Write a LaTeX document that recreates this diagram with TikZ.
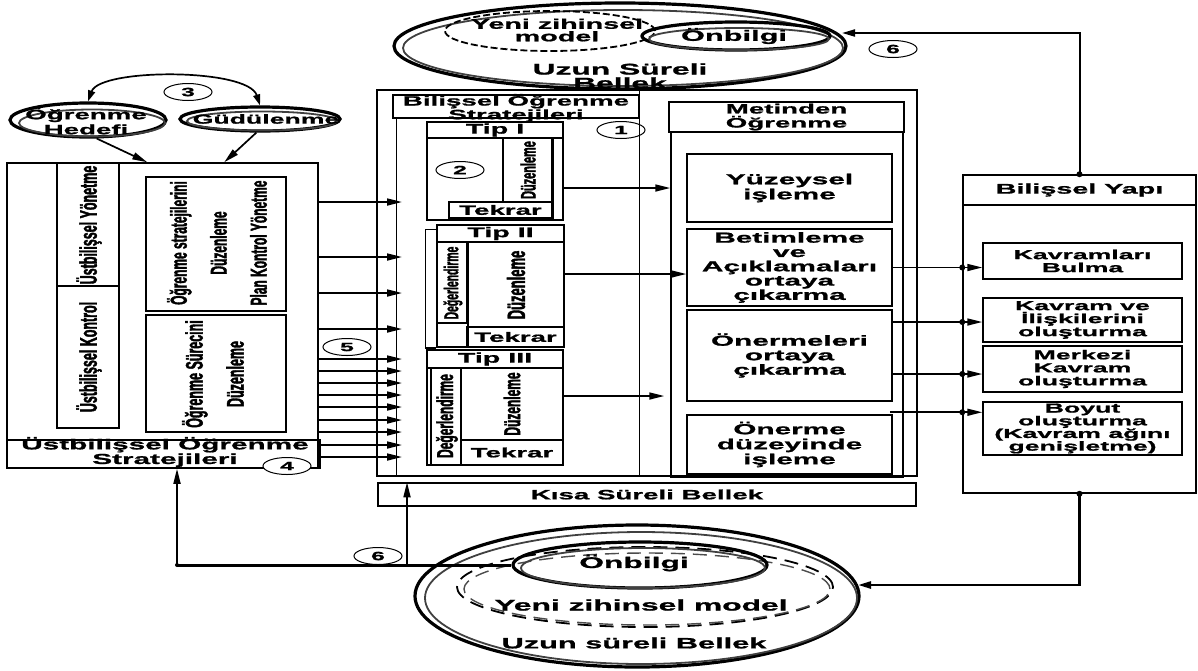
\documentclass[tikz,border=0pt]{standalone}
\usepackage{fontspec}
\setmainfont{Liberation Sans}
\newfontfamily\widef[FakeStretch=2.05,FakeBold=1.2]{Liberation Sans}
\newfontfamily\narrowf[FakeStretch=0.52,FakeBold=1.6]{Liberation Sans}
\newcommand\wfs[2]{\widef\bfseries\fontsize{#1}{#2}\selectfont}
\newcommand\nfs[2]{\narrowf\bfseries\fontsize{#1}{#2}\selectfont}
\usetikzlibrary{arrows.meta,shapes.geometric,calc}
\begin{document}
\begin{tikzpicture}[x=1pt,y=-1pt,
 bx/.style={draw, line width=1.5pt, inner sep=0pt, align=center},
 rot/.style={rotate=90, inner sep=0pt, align=center},
 lbl/.style={inner sep=0pt, align=center},
 num/.style={draw, ellipse, line width=1pt, minimum width=48pt, minimum height=17pt, inner sep=0pt, font=\wfs{12}{12}},
 arr/.style={line width=1.7pt, -{Triangle[length=15pt,width=7pt]}},
 ell/.style={draw, ellipse, line width=3.2pt, inner sep=0pt},
 ghost/.style={draw=black!75, ellipse, line width=1.8pt, inner sep=0pt},
 dsh/.style={draw, ellipse, line width=1.8pt, inner sep=0pt},
 dot/.style={circle, fill, inner sep=0pt, minimum size=6pt}
]
\useasboundingbox (0,0) rectangle (1198,670);

% ---------------- top long-term memory
\node[ell, minimum width=452pt, minimum height=86pt] (tmem) at (620,46) {};
\node[ghost, minimum width=440pt, minimum height=76pt] (tmemg) at (623,48) {};
\node[dsh, dash pattern=on 7pt off 3pt, minimum width=210pt, minimum height=40pt] (tym) at (550,31) {};
\node[ell, minimum width=188pt, minimum height=28pt] (tonb) at (736,36) {};
\node[ghost, minimum width=180pt, minimum height=22pt] (tonbg) at (739,39) {};
\node[lbl, font=\wfs{14}{12.5}] (tymt) at (557,30) {Yeni zihinsel\\model};
\node[lbl, font=\wfs{15.5}{14}] (tmemt) at (620,76) {Uzun Süreli\\Bellek};
\node[lbl, font=\wfs{15}{15}] (tonbt) at (734,36) {Önbilgi};

% ---------------- left: goals
\node[ell, minimum width=156pt, minimum height=34pt] (hedef) at (88,120) {};
\node[ghost, minimum width=146pt, minimum height=27pt] (hedefg) at (92,123) {};
\node[lbl, font=\wfs{13.5}{15}] (hedeft) at (86,121) {Öğrenme\\Hedefi};
\node[ell, minimum width=160pt, minimum height=24pt] (gudu) at (260,119) {};
\node[ghost, minimum width=150pt, minimum height=19pt] (gudug) at (262,121) {};
\node[lbl, font=\wfs{13}{13}] (gudut) at (266,119) {Güdülenme};
\node[num] (n3) at (188,92) {3};
\draw[line width=1.7pt, {Triangle[length=11pt,width=7pt]}-{Triangle[length=11pt,width=7pt]}]
  (hedef.north) .. controls (100,68) and (248,68) .. (gudu.north);

% ---------------- left box
\node[bx, minimum width=311pt, minimum height=305pt] (lbox) at (162.5,315.5) {};
\node[bx, minimum width=313pt, minimum height=28pt] (llab) at (163.5,454) {};
\node[lbl, font=\wfs{14.5}{12.5}] (llabt) at (165,452) {Üstbilişsel Öğrenme\\Stratejileri};
\node[num, fill=white] (n4) at (287,466) {4};
\draw[arr] (hedef.-65) -- ([xshift=141pt]lbox.north west);
\draw[arr] (gudu.-105) -- ([xshift=218pt]lbox.north west);

\node[bx, minimum width=62pt, minimum height=123pt] (ly) at (88,224.5) {};
\node[rot, font=\nfs{24}{24}] (lyt) at (89,225) {Üstbilişsel Yönetme};
\node[bx, minimum width=62pt, minimum height=142pt] (lk) at (88,357) {};
\node[rot, font=\nfs{24}{24}] (lkt) at (89,357) {Üstbilişsel Kontrol};
\node[bx, minimum width=140pt, minimum height=134pt] (lp) at (216,244) {};
\node[rot, font=\nfs{23}{40}] (lpt) at (217,243) {Öğrenme stratejilerini\\Düzenleme\\Plan Kontrol Yönetme};
\node[bx, minimum width=140pt, minimum height=117pt] (ls) at (216,373.5) {};
\node[rot, font=\nfs{24}{41}] (lst) at (213,374) {Öğrenme Sürecini\\Düzenleme};

% ---------------- middle frame
\node[bx, minimum width=540pt, minimum height=386pt] (bframe) at (647,283) {};
\draw[line width=1.5pt] ([xshift=263pt]bframe.north west) -- ([xshift=263pt]bframe.south west);
\node[bx, minimum width=246pt, minimum height=23pt] (bhead) at (516,106.5) {};
\draw[line width=1.5pt] ([xshift=20pt]bframe.south west) -- ([xshift=20pt]bframe.south west |- bhead.south);
\node[lbl, font=\wfs{13.5}{12}] (bheadt) at (516,108) {Bilişsel Öğrenme\\Stratejileri};
\node[num] (n1) at (621,130) {1};

% arrows from left box
\coordinate (btip) at (402,0);
\foreach \yy [count=\i] in {202,257,293,329,359,371,383,395,407,420,432,445,457} {
  \coordinate (ly\i) at (0,\yy);
  \draw[arr] (lbox.east |- ly\i) -- (btip |- ly\i);
}
\node[num] (n5) at (347,347) {5};

% Tip I
\node[bx, minimum width=136pt, minimum height=98pt] (tip1) at (495,171) {};
\node[bx, minimum width=136pt, minimum height=16pt, font=\wfs{14}{14}] (tip1h) at (495,130) {Tip I};
\node[bx, minimum width=49pt, minimum height=64pt] (tip1z) at (527.5,170) {};
\node[rot, font=\nfs{21}{21}] (tip1zt) at (528,170) {Düzenleme};
\node[bx, minimum width=103pt, minimum height=16pt, font=\wfs{13.5}{13.5}] (tip1t) at (500.5,210) {Tekrar};
\draw[line width=1.5pt] (tip1z.north east) -- (tip1t.south east);
\node[num] (n2) at (460,170) {2};

% Tip II
\node[bx, minimum width=127pt, minimum height=122pt] (tip2) at (500.5,286) {};
\node[bx, minimum width=127pt, minimum height=17pt, font=\wfs{14}{14}] (tip2h) at (500.5,233.5) {Tip II};
\node[bx, minimum width=30pt, minimum height=81pt] (tip2d) at (452,282.5) {};
\node[rot, font=\nfs{20}{20}] (tip2dt) at (453,283) {Değerlendirme};
\draw[line width=1.5pt] (tip2d.north east) -- (tip2d.north east |- tip2.south);
\node[bx, minimum width=97pt, minimum height=20pt, font=\wfs{13.5}{13.5}] (tip2t) at (515.5,337) {Tekrar};
\node[rot, font=\nfs{25}{25}] (tip2zt) at (516,285) {Düzenleme};
\draw[line width=1.5pt] ([yshift=-5pt]tip2.north west) -- ++(-11,0) |- (tip2.south west);

% Tip III
\node[bx, minimum width=136pt, minimum height=115pt] (tip3) at (495,407.5) {};
\node[bx, minimum width=136pt, minimum height=18pt, font=\wfs{14}{14}] (tip3h) at (495,359) {Tip III};
\node[bx, minimum width=30pt, minimum height=97pt] (tip3d) at (446,416.5) {};
\node[rot, font=\nfs{23}{23}] (tip3dt) at (447,416) {Değerlendirme};
\node[bx, minimum width=102pt, minimum height=25pt, font=\wfs{13.5}{13.5}] (tip3t) at (512,452.5) {Tekrar};
\node[rot, font=\nfs{23}{23}] (tip3zt) at (512,404) {Düzenleme};

% Metinden Öğrenme
\node[bx, minimum width=235pt, minimum height=30pt, font=\wfs{13.5}{14}] (mhead) at (786.5,117) {Metinden\\Öğrenme};
\node[bx, minimum width=232pt, minimum height=345pt] (minner) at (787,304.5) {};
\node[bx, minimum width=205pt, minimum height=68pt, font=\wfs{14.5}{15}] (yuz) at (789.5,188) {Yüzeysel\\işleme};
\node[bx, minimum width=205pt, minimum height=77pt, font=\wfs{14.5}{14.3}] (betim) at (789.5,267.5) {Betimleme\\ve\\Açıklamaları\\ortaya\\çıkarma};
\node[bx, minimum width=205pt, minimum height=91pt, font=\wfs{14.5}{14.5}] (oner) at (789.5,355.5) {Önermeleri\\ortaya\\çıkarma};
\node[bx, minimum width=205pt, minimum height=59pt, font=\wfs{14.5}{15}] (onerd) at (789.5,444.5) {Önerme\\düzeyinde\\işleme};

% arrows Tip -> Metinden
\coordinate (t1s) at ([yshift=-17pt]tip1.east);
\draw[arr] (t1s) -- (t1s -| minner.west);
\coordinate (t2s) at ([yshift=12pt]tip2.east);
\draw[arr] (t2s) -- (t2s -| betim.west);
\coordinate (t3s) at ([yshift=11.5pt]tip3.east);
\draw[arr] (t3s) -- ([xshift=-6pt]t3s -| minner.west);

% Bilişsel Yapı
\node[bx, minimum width=233pt, minimum height=318pt] (yapi) at (1079.5,334) {};
\node[bx, minimum width=233pt, minimum height=30pt, font=\wfs{14}{14}] (yhead) at (1079.5,190) {Bilişsel Yapı};
\node[bx, minimum width=199pt, minimum height=36pt, font=\wfs{13}{13}] (k1) at (1082.5,261) {Kavramları\\Bulma};
\node[bx, minimum width=199pt, minimum height=44pt, font=\wfs{13}{13}] (k2) at (1082.5,320) {Kavram ve\\İlişkilerini\\oluşturma};
\node[bx, minimum width=199pt, minimum height=46pt, font=\wfs{13}{13}] (k3) at (1082.5,369) {Merkezi\\Kavram\\oluşturma};
\node[bx, minimum width=199pt, minimum height=53pt, font=\wfs{13}{12.7}] (k4) at (1082.5,428.5) {Boyut\\oluşturma\\(Kavram ağını\\genişletme)};

% arrows Metinden -> Yapı
\coordinate (m1) at (betim.east);
\coordinate (m2) at ([yshift=33.5pt]oner.east);
\coordinate (m3) at ([yshift=-18.5pt]oner.east);
\coordinate (m4) at ([xshift=-3pt,yshift=2pt]onerd.north east);
\draw[arr] (m1) -- (m1 -| k1.west);
\draw[arr] (m2) -- (m2 -| k2.west);
\draw[arr] (m3) -- (m3 -| k3.west);
\draw[arr] (m4) -- (m4 -| k4.west);
\foreach \m in {m1,m2,m3,m4} { \node[dot] at (\m -| yapi.west) {}; }

% Yapı -> top memory
\coordinate (tin) at (842,33);
\draw[line width=2pt, -{Triangle[length=13pt,width=7pt]}] (yapi.north) |- (tin);
\node[dot] (d1) at (yapi.north) {};
\node[num] (n6a) at (893,49) {6};

% Kısa süreli bellek
\node[bx, minimum width=538pt, minimum height=23pt, font=\wfs{13.5}{13.5}] (kisa) at (647,494.5) {Kısa Süreli Bellek};

% ---------------- bottom long-term memory
\node[ell, minimum width=444pt, minimum height=142pt] (bmem) at (637,596) {};
\node[ghost, minimum width=432pt, minimum height=132pt] (bmemg) at (641,598) {};
\node[dsh, dash pattern=on 14pt off 8pt, minimum width=376pt, minimum height=80pt] (bym) at (645,587) {};
\node[draw=black!70, ellipse, line width=1.4pt, dash pattern=on 14pt off 8pt, inner sep=0pt, minimum width=366pt, minimum height=72pt] (bymg) at (647,589) {};
\node[ell, minimum width=254pt, minimum height=46pt] (bonb) at (640,565) {};
\node[ghost, minimum width=244pt, minimum height=40pt] (bonbg) at (643,568) {};
\node[lbl, font=\wfs{15.5}{15.5}] (bonbt) at (634,563) {Önbilgi};
\node[lbl, font=\wfs{15.5}{15.5}] (bymt) at (641,605) {Yeni zihinsel model};
\node[lbl, font=\wfs{15}{15}] (bmemt) at (634,643) {Uzun süreli Bellek};

% Yapı -> bottom memory
\coordinate (bin) at (858,585);
\draw[line width=2.5pt, -{Triangle[length=13pt,width=7pt]}] (yapi.south) |- (bin);
\node[dot] (d2) at (yapi.south) {};

% bottom memory -> left box and Kısa süreli bellek
\coordinate (jl) at (177,565);
\coordinate (jm) at (407,565);
\draw[line width=3pt] (bonb.west) -- (jl);
\node[dot, minimum size=4pt] (d3) at (jl) {};
\draw[arr] (jl) -- (jl |- lbox.south);
\draw[arr] (jm) -- (jm |- kisa.north);
\node[num] (n6b) at (378,556) {6};
\end{tikzpicture}
\end{document}
